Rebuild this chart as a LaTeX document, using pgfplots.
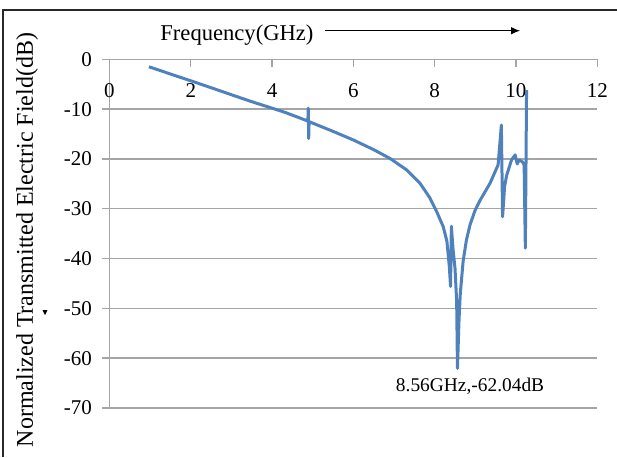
\documentclass[border=0pt]{standalone}
\usepackage{fontspec}
\setmainfont{Liberation Serif}
\usepackage{pgfplots}
\pgfplotsset{compat=1.18}
\usetikzlibrary{arrows.meta}

\definecolor{curve}{RGB}{79,129,189}
\definecolor{gridc}{RGB}{165,165,165}
\definecolor{framec}{RGB}{40,40,40}

\begin{document}
\begin{tikzpicture}
\useasboundingbox (-54.75pt,-24.5pt) rectangle (253.75pt,204pt);
\begin{axis}[
  at={(0pt,0pt)}, anchor=south west,
  scale only axis, width=243.9pt, height=174.35pt,
  xmin=0, xmax=12, ymin=-70, ymax=0,
  xtick={0,2,4,6,8,10,12}, xticklabels={0,2,4,6,8,10,12},
  ytick={0,-10,-20,-30,-40,-50,-60,-70},
  yticklabels={0,-10,-20,-30,-40,-50,-60,-70},
  axis x line*=top, axis y line*=left,
  axis line style={gridc, line width=0.7pt},
  ymajorgrids, grid style={gridc, line width=0.7pt},
  tick style={gridc, line width=0.7pt},
  tick align=outside, major tick length=3.75pt,
  xtick style={yshift=-3.75pt},
  xticklabel style={anchor=center, yshift=-19.4pt},
  yticklabel style={xshift=-1.5pt},
  ticklabel style={font=\fontsize{10.5}{12}\selectfont},
  clip=false,
]
% transmitted field, dB
\addplot[curve, line width=1.5pt, line join=round] coordinates {
  (0.97,-1.5) (2.14,-4.7) (3.46,-8.4) (4.30,-10.6) (4.69,-11.8)
  (4.88,-12.4) (4.89,-9.8) (4.90,-15.9) (4.91,-12.5)
  (5.01,-12.85) (5.51,-14.5) (6.00,-16.2) (6.49,-18.1) (6.90,-19.9)
  (7.31,-22.2) (7.64,-24.9) (7.88,-27.8) (8.05,-30.6) (8.21,-33.6)
  (8.30,-36.5) (8.36,-41.6) (8.39,-45.6) (8.41,-33.5) (8.45,-38.0)
  (8.50,-42.0) (8.54,-48.5) (8.56,-62.04) (8.60,-52.0) (8.63,-47.0)
  (8.70,-40.5) (8.78,-36.3) (8.87,-33.2) (8.99,-30.4) (9.11,-28.4)
  (9.36,-24.9) (9.56,-21.2) (9.64,-13.2) (9.67,-31.6) (9.72,-25.5)
  (9.77,-23.3) (9.89,-20.2) (9.98,-19.2) (10.03,-21.0) (10.08,-20.2)
  (10.16,-20.6) (10.20,-21.2) (10.23,-37.9) (10.26,-6.2)
};
\node[font=\fontsize{9.7}{11}\selectfont] at (axis cs:8.87,-65.7) {8.56GHz,-62.04dB};
\end{axis}
\draw[framec, line width=1pt] (-53pt,-24.5pt) -- (-53pt,199pt) -- (253.75pt,199pt);
\node[anchor=base west, inner sep=0pt, font=\fontsize{11.3}{13}\selectfont] at (25.25pt,184pt) {Frequency(GHz)};
\draw[line width=0.5pt, -{Latex[length=4.5pt,width=3.8pt]}] (107.75pt,188.65pt) -- (205.25pt,188.65pt);
\node[rotate=90, anchor=base, inner sep=0pt, font=\fontsize{12}{14}\selectfont] at (-38.25pt,84pt) {Normalized Transmitted Electric Field(dB)};
\fill (-33.5pt,49pt) -- (-31pt,49pt) -- (-32.25pt,46.5pt) -- cycle;
\end{tikzpicture}
\end{document}
